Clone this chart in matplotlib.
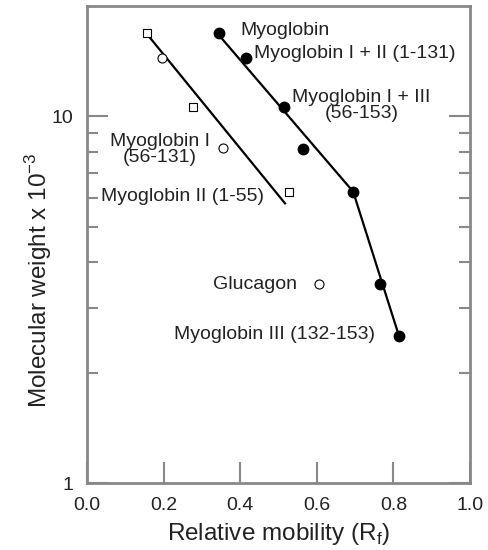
import matplotlib
matplotlib.use("Agg")
import matplotlib.pyplot as plt
from matplotlib.ticker import FixedLocator, NullFormatter, FixedFormatter

plt.rcParams['font.family'] = ['Liberation Sans', 'DejaVu Sans']

# Data
sq_x = [0.156, 0.276, 0.528]
sq_y = [16.9, 10.6, 6.23]
oc_x = [0.197, 0.356, 0.607]
oc_y = [14.4, 8.18, 3.48]
fc_x = [0.345, 0.415, 0.515, 0.565, 0.695, 0.765, 0.815]
fc_y = [16.9, 14.4, 10.6, 8.16, 6.23, 3.49, 2.51]
fit_open_x = [0.157, 0.517]
fit_open_y = [16.75, 5.79]
fit_fill_x = [0.35, 0.695, 0.815]
fit_fill_y = [16.4, 6.23, 2.51]

labels = ["Myoglobin", "Myoglobin I + II (1-131)", "Myoglobin I + III\n(56-153)",
          "Myoglobin I\n(56-131)", "Myoglobin II (1-55)", "Glucagon",
          "Myoglobin III (132-153)"]
label_x = [0.40, 0.436, 0.717, 0.19, 0.0366, 0.33, 0.227]
label_y = [17.2, 14.8, 10.7, 8.12, 6.06, 3.48, 2.54]
label_ha = ["left", "left", "center", "center", "left", "left", "left"]

xticks = [0.0, 0.2, 0.4, 0.6, 0.8, 1.0]
xticklabels = ["0.0", "0.2", "0.4", "0.6", "0.8", "1.0"]

fig = plt.figure(figsize=(4.89, 5.5), dpi=100)
ax = fig.add_axes([87/489, 1-483/550, (470-87)/489, (483-6)/550])

ax.plot(fit_open_x, fit_open_y, color='black', lw=1.6, zorder=2)
ax.plot(fit_fill_x, fit_fill_y, color='black', lw=1.6, zorder=2)
ax.plot(sq_x, sq_y, ls='none', marker='s', ms=6, mfc='white', mec='black', mew=0.8, zorder=3)
ax.plot(oc_x, oc_y, ls='none', marker='o', ms=6.5, mfc='white', mec='black', mew=0.8, zorder=3)
ax.plot(fc_x, fc_y, ls='none', marker='o', ms=7.5, mfc='black', mec='black', zorder=3)

for t, x, y, ha in zip(labels, label_x, label_y, label_ha):
    ax.text(x, y, t, ha=ha, va='center', fontsize=14, color='#222222', linespacing=0.9)

ax.set_yscale('log')
ax.set_xlim(0, 1)
ax.set_ylim(1, 20)
ax.xaxis.set_major_locator(FixedLocator(xticks))
ax.xaxis.set_major_formatter(FixedFormatter(xticklabels))
ax.yaxis.set_major_locator(FixedLocator([1, 10]))
ax.yaxis.set_major_formatter(FixedFormatter(["1", "10"]))
ax.yaxis.set_minor_locator(FixedLocator([2, 3, 4, 5, 6, 7, 8, 9]))
ax.yaxis.set_minor_formatter(NullFormatter())

grey = '#888888'
for s in ax.spines.values():
    s.set_color(grey)
    s.set_linewidth(2)
ax.tick_params(axis='x', which='major', direction='in', length=15, width=1.5, color=grey,
               labelsize=14, pad=10, top=False, labelcolor='#222222')
ax.tick_params(axis='y', which='major', direction='in', length=15, width=1.5, color=grey,
               labelsize=14, pad=10, right=True, labelcolor='#222222')
ax.tick_params(axis='y', which='minor', direction='in', length=8, width=1.5, color=grey, right=True)

ax.set_xlabel(r"Relative mobility (R$_\mathregular{f}$)", fontsize=17.5, color='#222222')
ax.set_ylabel(r"Molecular weight x 10$^\mathregular{-3}$", fontsize=17.5, color='#222222')
ax.xaxis.set_label_coords(0.5, -0.08)
ax.yaxis.set_label_coords(-0.087, 0.425)

fig.savefig("out.png", dpi=100)
